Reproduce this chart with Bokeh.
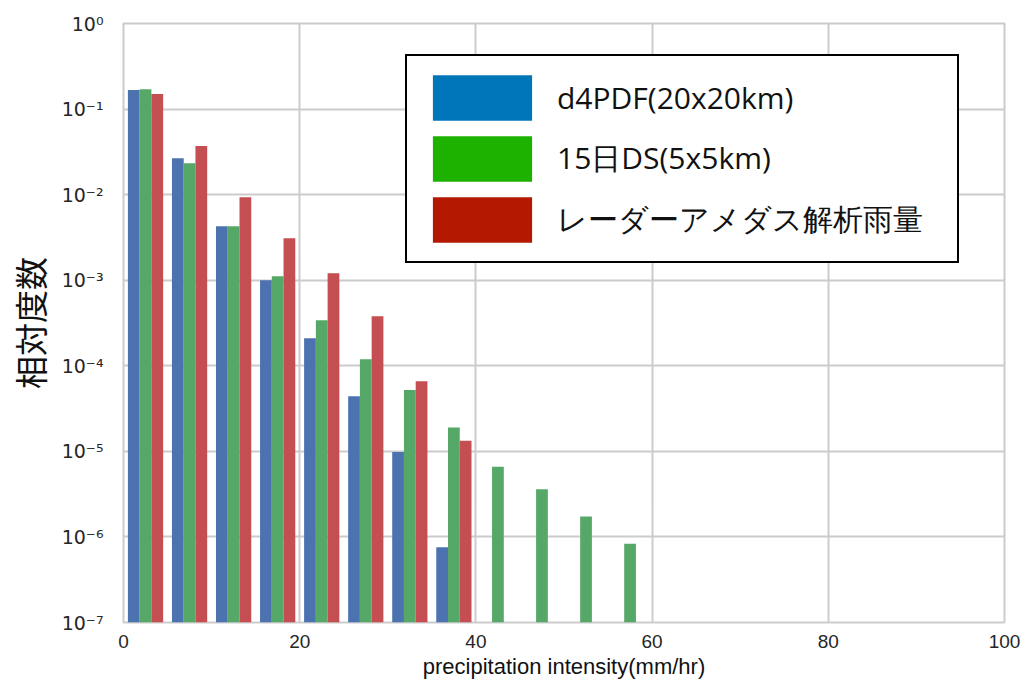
from bokeh.plotting import figure
from bokeh.models import (ColumnDataSource, FixedTicker, CustomJSTickFormatter,
                          Legend, LegendItem, Range1d)
from bokeh.embed import file_html
from bokeh.resources import INLINE

# Histogram of hourly precipitation intensity, 5 mm/hr bins
bin_edges = [0, 5, 10, 15, 20, 25, 30, 35, 40, 45, 50, 55, 60]

d4pdf = [0.167, 0.0267, 0.00428, 0.00100, 2.1e-4, 4.4e-5, 9.8e-6, 7.6e-7,
         0, 0, 0, 0]
ds15 = [0.171, 0.0233, 0.00428, 0.00111, 3.4e-4, 1.19e-4, 5.2e-5, 1.9e-5,
        6.6e-6, 3.6e-6, 1.73e-6, 8.3e-7]
radar = [0.150, 0.0369, 0.00935, 0.0031, 1.21e-3, 3.8e-4, 6.6e-5, 1.33e-5,
         0, 0, 0, 0]

series_names = ["d4PDF(20x20km)", "15日DS(5x5km)", "レーダーアメダス解析雨量"]
bar_colors = ["#4C72B0", "#55A868", "#C44E52"]
legend_colors = ["#0076BA", "#1DB100", "#B51800"]

y_ticks = [10.0 ** k for k in range(-7, 1)]
x_ticks = [0, 20, 40, 60, 80, 100]

Y_MIN, Y_MAX = 1e-7, 1.0

p = figure(width=1022, height=683, y_axis_type="log",
           x_range=Range1d(0, 100), y_range=Range1d(Y_MIN, Y_MAX),
           output_backend="svg", toolbar_location=None,
           min_border_left=123, min_border_right=18,
           min_border_top=23, min_border_bottom=61)

# grouped bars: 80% of each bin shared by the three series
n = len(series_names)
bar_w = 5 * 0.8 / n
for k, (vals, col) in enumerate(zip([d4pdf, ds15, radar], bar_colors)):
    left, right, top = [], [], []
    for i, v in enumerate(vals):
        if v > 0:
            lo = bin_edges[i] + 5 * 0.1 + k * bar_w
            left.append(lo)
            right.append(lo + bar_w)
            top.append(v)
    src = ColumnDataSource(dict(left=left, right=right, top=top,
                                bottom=[Y_MIN] * len(top)))
    p.quad(left="left", right="right", top="top", bottom="bottom",
           source=src, fill_color=col, line_color=None)

# legend swatches use their own palette (NaN geometry: nothing drawn in the plot)
nan = float("nan")
legend_items = []
for name, col in zip(series_names, legend_colors):
    r = p.quad(left=[nan], right=[nan], top=[nan], bottom=[nan],
               fill_color=col, line_color=None)
    legend_items.append(LegendItem(label=name, renderers=[r]))

legend = Legend(items=legend_items, location=(282, 359),
                glyph_width=124, glyph_height=57, label_standoff=13,
                label_width=387, spacing=4, padding=13, margin=0,
                label_text_font="Open Sans",
                label_text_font_size="30px", label_text_color="#111111",
                border_line_color="black", border_line_width=2.5,
                border_line_alpha=1.0,
                background_fill_color="white", background_fill_alpha=1.0)
p.add_layout(legend, "center")

# styling
p.background_fill_color = "white"
p.outline_line_color = "#cccccc"
p.outline_line_width = 2
p.grid.grid_line_color = "#cccccc"
p.grid.grid_line_width = 2

p.xaxis.ticker = FixedTicker(ticks=x_ticks)
p.yaxis.ticker = FixedTicker(ticks=y_ticks)
p.ygrid.ticker = FixedTicker(ticks=y_ticks)
p.xgrid.ticker = FixedTicker(ticks=x_ticks)

p.yaxis.formatter = CustomJSTickFormatter(code="""
const sup = {"-": "\u207b", "0": "\u2070", "1": "\u00b9", "2": "\u00b2",
             "3": "\u00b3", "4": "\u2074", "5": "\u2075", "6": "\u2076",
             "7": "\u2077", "8": "\u2078", "9": "\u2079"};
const e = Math.round(Math.log10(tick));
return "10" + String(e).split("").map(c => sup[c]).join("");
""")

for ax in (p.xaxis, p.yaxis):
    ax.axis_line_color = None
    ax.major_tick_line_color = None
    ax.minor_tick_line_color = None
    ax.major_tick_out = 0
    ax.major_tick_in = 0
    ax.minor_tick_out = 0
    ax.minor_tick_in = 0
    ax.major_label_text_color = "#262626"
    ax.axis_label_text_color = "#111111"
    ax.axis_label_text_font_style = "normal"

p.xaxis.major_label_text_font = "Liberation Sans"
p.xaxis.major_label_text_font_size = "19px"
p.xaxis.major_label_standoff = 12
p.xaxis.axis_label = "precipitation intensity(mm/hr)"
p.xaxis.axis_label_text_font = "Liberation Sans"
p.xaxis.axis_label_text_font_size = "22px"
p.xaxis.axis_label_standoff = 3

p.yaxis.major_label_text_font = "DejaVu Sans"
p.yaxis.major_label_text_font_size = "19px"
p.yaxis.major_label_standoff = 20
p.yaxis.axis_label = "相対度数"
p.yaxis.axis_label_text_font = "Noto Sans CJK JP"
p.yaxis.axis_label_text_font_size = "33px"
p.yaxis.axis_label_standoff = 5

open("out.html", "w").write(file_html(p, INLINE))
